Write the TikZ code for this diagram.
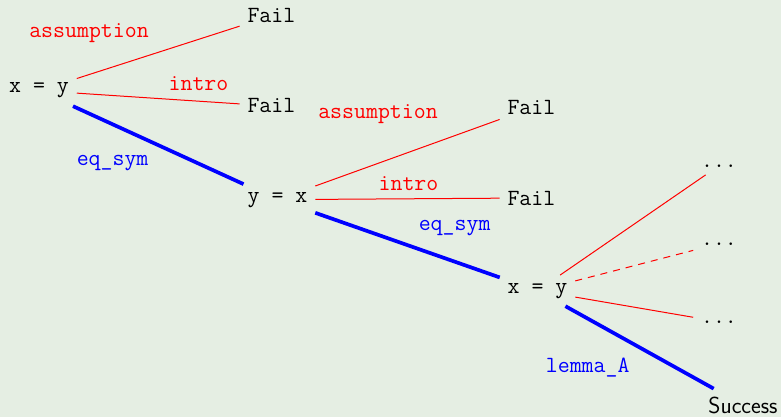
\documentclass[tikz,border=0pt]{standalone}
\definecolor{bg}{HTML}{E5EEE3}
\tikzset{
  every node/.style={inner sep=7.7pt, font=\fontsize{23.2}{28}\selectfont\ttfamily},
  goal/.style={anchor=base},
  lbl/.style={anchor=base, inner sep=0pt},
  failedge/.style={red, line width=1pt},
  winedge/.style={blue, line width=3.7pt},
  openedge/.style={red, line width=1pt, dash pattern=on 7pt off 6pt},
}
\begin{document}
\begin{tikzpicture}[x=1pt,y=-1pt]
\fill[bg] (0,0) rectangle (781,417);
\useasboundingbox (0,0) rectangle (781,417);
% goals
\node[goal] (a) at (39,93) {x = y};
\node[goal] (f1) at (271.4,23) {Fail};
\node[goal] (f2) at (271.4,113) {Fail};
\node[goal] (b) at (277.5,202) {y = x};
\node[goal] (f3) at (531.4,115) {Fail};
\node[goal] (f4) at (531.4,205) {Fail};
\node[goal] (c) at (537.5,293) {x = y};
\node[goal] (d1) at (719,167) {...};
\node[goal] (d2) at (719,245) {...};
\node[goal] (d3) at (719,323) {...};
\node[goal, font=\fontsize{23.2}{28}\selectfont\sffamily] (s) at (743,413) {Success};
% edges
\draw[failedge] (a) -- (f1);
\draw[failedge] (a) -- (f2);
\draw[winedge] (a) -- (b);
\draw[failedge] (b) -- (f3);
\draw[failedge] (b) -- (f4);
\draw[winedge] (b) -- (c);
\draw[failedge] (c) -- (d1);
\draw[openedge] (c) -- (d2);
\draw[failedge] (c) -- (d3);
\draw[winedge] (c) -- (s);
% tactic labels
\node[lbl, red] (l1) at (89,38) {assumption};
\node[lbl, red] (l2) at (198.5,91) {intro};
\node[lbl, blue] (l3) at (112.6,165) {eq\_sym};
\node[lbl, red] (l4) at (378,119) {assumption};
\node[lbl, red] (l5) at (408.5,190) {intro};
\node[lbl, blue] (l6) at (454.6,230) {eq\_sym};
\node[lbl, blue] (l7) at (587.7,372) {lemma\_A};
\end{tikzpicture}
\end{document}
